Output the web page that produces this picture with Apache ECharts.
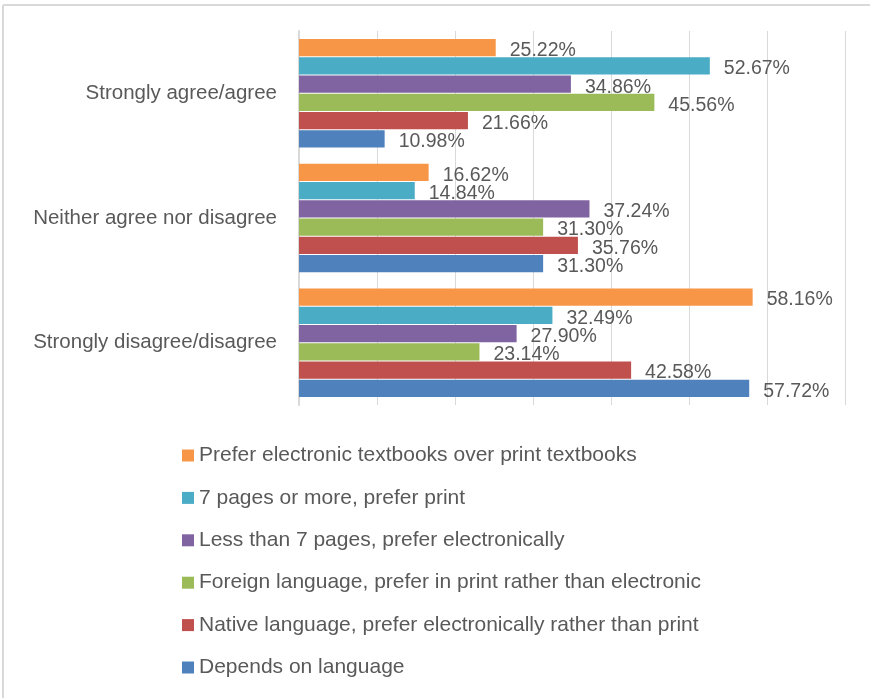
<!DOCTYPE html>
<html>
<head>
<meta charset="utf-8">
<script src="https://cdn.jsdelivr.net/npm/echarts@6/dist/echarts.min.js"></script>
<style>
  html, body { margin: 0; padding: 0; background: #fff; }
  #chart { width: 870px; height: 698px; }
</style>
</head>
<body>
<div id="chart"></div>
<script>
  // categories, top to bottom
  const categories = ['Strongly agree/agree', 'Neither agree nor disagree', 'Strongly disagree/disagree'];

  // series values, one array per answer group
  const preferElectronicTextbooks = [25.22, 16.62, 58.16];
  const sevenPagesPrint = [52.67, 14.84, 32.49];
  const lessThanSevenElectronic = [34.86, 37.24, 27.90];
  const foreignPrint = [45.56, 31.30, 23.14];
  const nativeElectronic = [21.66, 35.76, 42.58];
  const dependsOnLanguage = [10.98, 31.30, 57.72];

  const seriesNames = [
    'Prefer electronic textbooks over print textbooks',
    '7 pages or more, prefer print',
    'Less than 7 pages, prefer electronically',
    'Foreign language, prefer in print rather than electronic',
    'Native language, prefer electronically rather than print',
    'Depends on language'
  ];
  const seriesValues = [preferElectronicTextbooks, sevenPagesPrint, lessThanSevenElectronic,
                        foreignPrint, nativeElectronic, dependsOnLanguage];
  const colors = ['#F79646', '#4BACC6', '#8064A2', '#9BBB59', '#C0504D', '#4F81BD'];

  const font = '"Liberation Sans", Arial, sans-serif';
  const textColor = '#595959';

  const myChart = echarts.init(document.getElementById('chart'));

  let series = [];
  seriesNames.forEach((name, i) => {
    series.push({
      name: name,
      type: 'bar',
      data: seriesValues[i],
      barGap: '6%',
      barCategoryGap: '13%',
      itemStyle: { color: colors[i] },
      label: {
        show: true,
        position: 'right',
        distance: 14,
        offset: [0, 3],
        color: textColor,
        fontFamily: font,
        fontSize: 19.5,
        formatter: p => p.value.toFixed(2) + '%'
      }
    });
  });

  let option = {
    animation: false,
    color: colors,
    grid: { left: 299, right: 25, top: 31, bottom: 293 },
    xAxis: {
      type: 'value',
      min: 0,
      max: 70,
      interval: 10,
      axisLabel: { show: false },
      axisLine: { show: false },
      axisTick: { show: false },
      splitLine: { lineStyle: { color: '#D9D9D9', width: 1 } }
    },
    yAxis: {
      type: 'category',
      data: categories,
      inverse: true,
      axisLine: { lineStyle: { color: '#D9D9D9', width: 2 } },
      axisTick: { show: false },
      axisLabel: { color: textColor, fontFamily: font, fontSize: 20.5, margin: 22 }
    },
    legend: {
      orient: 'vertical',
      left: 177,
      top: 440,
      itemWidth: 12,
      itemHeight: 12,
      itemGap: 21.4,
      icon: 'rect',
      data: seriesNames,
      textStyle: { color: textColor, fontFamily: font, fontSize: 21, lineHeight: 21 }
    },
    graphic: [
      { type: 'line', shape: { x1: 3, y1: 5, x2: 870, y2: 5 }, style: { stroke: '#D9D9D9', lineWidth: 2 } },
      { type: 'line', shape: { x1: 3, y1: 5, x2: 3, y2: 698 }, style: { stroke: '#D9D9D9', lineWidth: 2 } }
    ],
    series: series
  };

  myChart.setOption(option);
</script>
</body>
</html>
